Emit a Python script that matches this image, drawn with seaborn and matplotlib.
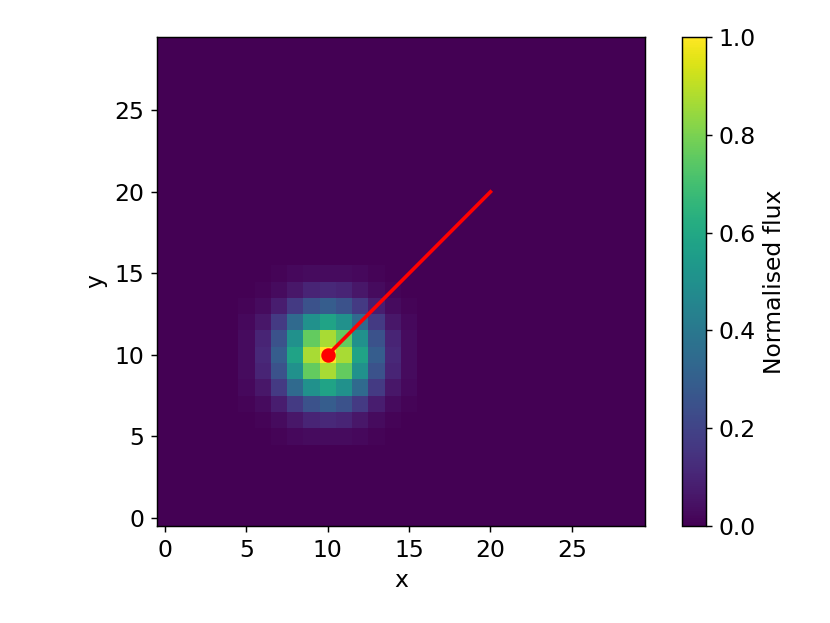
import numpy as np
import matplotlib
matplotlib.use("Agg")
import matplotlib.pyplot as plt
import seaborn as sns

# image size and where the source sits
n_pix = 30
centre = (10, 10)

# flux, 11x11 block around the centre (rows = y, cols = x)
psf_block = [
    [0.00, 0.00, 0.01, 0.02, 0.03, 0.03, 0.03, 0.02, 0.01, 0.00, 0.00],
    [0.00, 0.01, 0.03, 0.06, 0.10, 0.11, 0.10, 0.06, 0.03, 0.01, 0.00],
    [0.01, 0.03, 0.08, 0.17, 0.25, 0.29, 0.25, 0.17, 0.08, 0.03, 0.01],
    [0.02, 0.06, 0.17, 0.34, 0.50, 0.58, 0.50, 0.34, 0.17, 0.06, 0.02],
    [0.03, 0.10, 0.25, 0.50, 0.76, 0.87, 0.76, 0.50, 0.25, 0.10, 0.03],
    [0.03, 0.11, 0.29, 0.58, 0.87, 1.00, 0.87, 0.58, 0.29, 0.11, 0.03],
    [0.03, 0.10, 0.25, 0.50, 0.76, 0.87, 0.76, 0.50, 0.25, 0.10, 0.03],
    [0.02, 0.06, 0.17, 0.34, 0.50, 0.58, 0.50, 0.34, 0.17, 0.06, 0.02],
    [0.01, 0.03, 0.08, 0.17, 0.25, 0.29, 0.25, 0.17, 0.08, 0.03, 0.01],
    [0.00, 0.01, 0.03, 0.06, 0.10, 0.11, 0.10, 0.06, 0.03, 0.01, 0.00],
    [0.00, 0.00, 0.01, 0.02, 0.03, 0.03, 0.03, 0.02, 0.01, 0.00, 0.00],
]

# red track from the source
line_x = [10, 20]
line_y = [10, 20]

ticks = [0, 5, 10, 15, 20, 25]
cbar_ticks = [0.0, 0.2, 0.4, 0.6, 0.8, 1.0]

img = np.zeros((n_pix, n_pix))
block = np.array(psf_block)
h = block.shape[0] // 2
img[centre[1] - h:centre[1] + h + 1, centre[0] - h:centre[0] + h + 1] = block

plt.rcParams["font.size"] = 13
plt.rcParams["font.family"] = ["DejaVu Sans"]

fig = plt.figure(figsize=(8.3 / 1.3, 6.23 / 1.3), dpi=130)
ax = fig.add_axes([157 / 830, 1 - 526 / 623, 488 / 830, 489 / 623])
cax = fig.add_axes([682 / 830, 1 - 526 / 623, 24 / 830, 489 / 623])

sns.heatmap(img, ax=ax, cbar_ax=cax, cmap="viridis", vmin=0, vmax=1,
            xticklabels=False, yticklabels=False,
            cbar_kws={"ticks": cbar_ticks})
ax.set_ylim(0, n_pix)
ax.set_xlim(0, n_pix)

# heatmap cells sit on [i, i+1]; shift data coords by half a pixel
off = 0.5
ax.plot(np.array(line_x) + off, np.array(line_y) + off, color="red", lw=2)
ax.plot(line_x[0] + off, line_y[0] + off, "o", color="red", ms=7)

ax.set_xticks(np.array(ticks) + off)
ax.set_xticklabels([str(t) for t in ticks], rotation=0)
ax.set_yticks(np.array(ticks) + off)
ax.set_yticklabels([str(t) for t in ticks], rotation=0)
ax.tick_params(length=3.5, width=0.8, direction="out")
for s in ax.spines.values():
    s.set_visible(True)
    s.set_linewidth(0.8)
    s.set_color("black")
ax.set_xlabel("x")
ax.set_ylabel("y")

cbar = ax.collections[0].colorbar
cbar.outline.set_linewidth(0.8)
cbar.outline.set_edgecolor("black")
cbar.set_ticklabels(["0.0", "0.2", "0.4", "0.6", "0.8", "1.0"])
cbar.set_label("Normalised flux")
cax.tick_params(length=3.5, width=0.8)

fig.savefig("out.png", dpi=130)
